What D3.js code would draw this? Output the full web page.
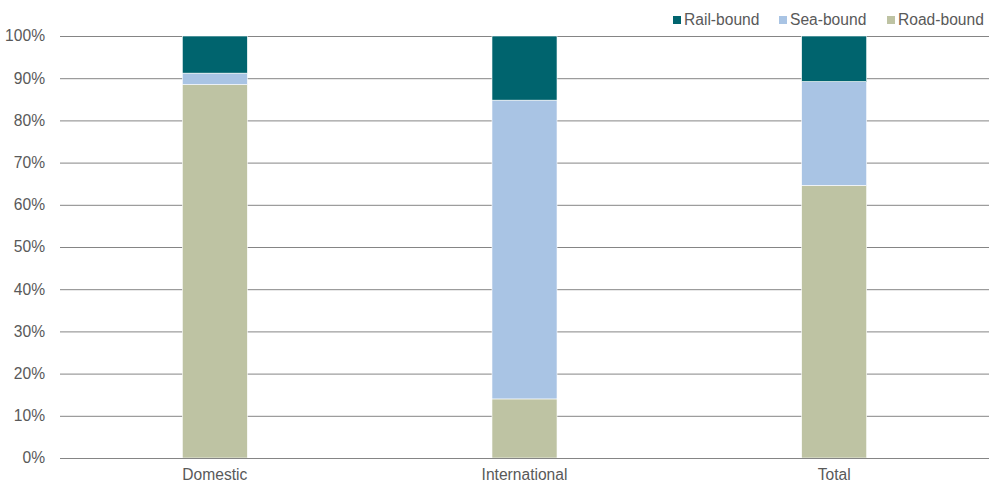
<!DOCTYPE html>
<html>
<head>
<meta charset="utf-8">
<script src="https://cdn.jsdelivr.net/npm/d3@7"></script>
<style>
  html, body { margin: 0; padding: 0; background: #fff; }
  svg { display: block; font-family: "Liberation Sans", Arial, sans-serif; }
</style>
</head>
<body>
<svg id="chart" width="989" height="483"></svg>
<script>
// Share of freight by transport mode (percent)
const categories = ["Domestic", "International", "Total"];
const seriesNames = ["Road-bound", "Sea-bound", "Rail-bound"];
const roadBound = [88.5, 14.0, 64.6];
const seaBound = [2.7, 70.8, 24.6];
const railBound = [8.8, 15.2, 10.8];
const yTicks = [0, 10, 20, 30, 40, 50, 60, 70, 80, 90, 100];
const legendOrder = ["Rail-bound", "Sea-bound", "Road-bound"];

const colors = { "Road-bound": "#bec3a3", "Sea-bound": "#a9c4e4", "Rail-bound": "#00646e" };
const fontSize = 15.6;

const rows = categories.map((c, i) => ({
  category: c,
  "Road-bound": roadBound[i],
  "Sea-bound": seaBound[i],
  "Rail-bound": railBound[i]
}));

const svg = d3.select("#chart");
const margin = { top: 36, right: 0, bottom: 25, left: 60 };
const width = 989, height = 483;

const x = d3.scaleBand().domain(categories)
  .range([margin.left, width - margin.right])
  .paddingInner(0.79).paddingOuter(0.395);
const y = d3.scaleLinear().domain([0, 100]).range([height - margin.bottom, margin.top]);

// gridlines
svg.append("g").selectAll("line").data(yTicks).join("line")
  .attr("x1", margin.left).attr("x2", width - margin.right)
  .attr("y1", d => y(d) + 0.5).attr("y2", d => y(d) + 0.5)
  .attr("stroke", "#858585").attr("stroke-width", 1);

// y tick labels
svg.append("g").selectAll("text").data(yTicks).join("text")
  .attr("x", 45).attr("y", d => y(d)).attr("dy", "0.35em")
  .attr("text-anchor", "end").attr("fill", "#595959").attr("font-size", fontSize)
  .text(d => d + "%");

// stacked bars
const stack = d3.stack().keys(seriesNames)(rows);
svg.append("g").selectAll("g").data(stack).join("g")
  .attr("fill", d => colors[d.key])
  .selectAll("rect").data(d => d).join("rect")
  .attr("x", d => x(d.data.category))
  .attr("width", x.bandwidth())
  .attr("y", d => y(d[1]))
  .attr("height", d => y(d[0]) - y(d[1]))
  .attr("stroke", "#ffffff").attr("stroke-width", 0.6);

// baseline
svg.append("line")
  .attr("x1", margin.left).attr("x2", width - margin.right)
  .attr("y1", y(0) + 0.5).attr("y2", y(0) + 0.5)
  .attr("stroke", "#858585");

// category labels
svg.append("g").selectAll("text").data(categories).join("text")
  .attr("x", d => x(d) + x.bandwidth() / 2).attr("y", 480)
  .attr("text-anchor", "middle").attr("fill", "#595959").attr("font-size", fontSize)
  .text(d => d);

// legend
const legendX = [673, 779, 887];
const legend = svg.append("g").selectAll("g").data(legendOrder).join("g")
  .attr("transform", (d, i) => `translate(${legendX[i]},16)`);
legend.append("rect").attr("width", 8).attr("height", 8).attr("fill", d => colors[d]);
legend.append("text").attr("x", 11).attr("y", 4).attr("dy", "0.35em")
  .attr("fill", "#595959").attr("font-size", fontSize).text(d => d);
</script>
</body>
</html>
